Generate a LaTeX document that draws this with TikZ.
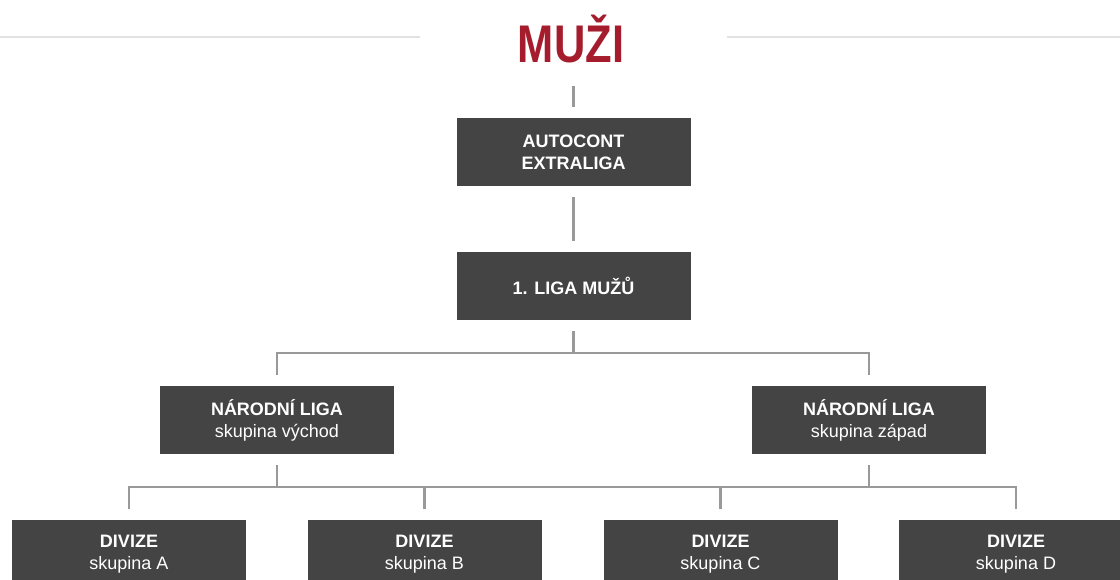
\documentclass[tikz,border=0pt]{standalone}
\usepackage{fontspec}
\setmainfont{Liberation Sans}
\usepackage{graphicx}
\definecolor{boxgray}{HTML}{444444}
\definecolor{conngray}{HTML}{999999}
\definecolor{muzired}{HTML}{A51D2D}
\definecolor{rulegray}{HTML}{E2E2E2}
\begin{document}
\begin{tikzpicture}[x=1pt,y=-1pt,
  box/.style={fill=boxgray, text=white, minimum width=234pt, minimum height=68pt,
    inner sep=0pt, outer sep=11pt, align=center, font=\fontsize{18}{22}\selectfont},
  conn/.style={draw=conngray, line width=2.6pt},
  rule/.style={draw=rulegray, line width=2pt},
  title/.style={text=muzired, inner sep=0pt, font=\fontsize{53}{53}\selectfont\bfseries}]
\useasboundingbox (0,0) rectangle (1120,580);
\clip (0,0) rectangle (1120,580);
\fill[white] (0,0) rectangle (1120,580);
% decorative rules
\draw[rule] (0,37) -- (420,37);
\draw[rule] (727,37) -- (1120,37);
% title
\node[title, anchor=base] (muzi) at (571,63) {\scalebox{0.82}[1]{MUŽI}};
\coordinate (mt) at (572,86);
% boxes
\node[box] (auto) at (573.5,152) {\textbf{AUTOCONT}\\\textbf{EXTRALIGA}};
\node[box] (liga) at (573.5,286) {\textbf{1. LIGA MUŽŮ}};
\node[box] (nlv) at (277,420) {\textbf{NÁRODNÍ LIGA}\\skupina východ};
\node[box] (nlz) at (869,420) {\textbf{NÁRODNÍ LIGA}\\skupina západ};
\node[box] (da) at (129,554) {\textbf{DIVIZE}\\skupina A};
\node[box] (db) at (424.5,554) {\textbf{DIVIZE}\\skupina B};
\node[box] (dc) at (720.5,554) {\textbf{DIVIZE}\\skupina C};
\node[box] (dd) at (1016,554) {\textbf{DIVIZE}\\skupina D};
% connectors
\draw[conn] (auto.north |- mt) -- (auto.north);
\draw[conn] (auto.south) -- (liga.north);
\draw[conn] (liga.south) -- ++(0,22) coordinate (b1);
\draw[conn] (b1) -| (nlv.north);
\draw[conn] (b1) -| (nlz.north);
\draw[conn] (nlv.south) -- ++(0,22) coordinate (b2);
\draw[conn] (b2) -| (da.north);
\draw[conn] (b2) -| (db.north);
\draw[conn] (nlz.south) -- ++(0,22) coordinate (b3);
\draw[conn] (b3) -| (dc.north);
\draw[conn] (b3) -| (dd.north);
\draw[conn] (db.north |- b2) -- (dc.north |- b3);
\end{tikzpicture}
\end{document}
